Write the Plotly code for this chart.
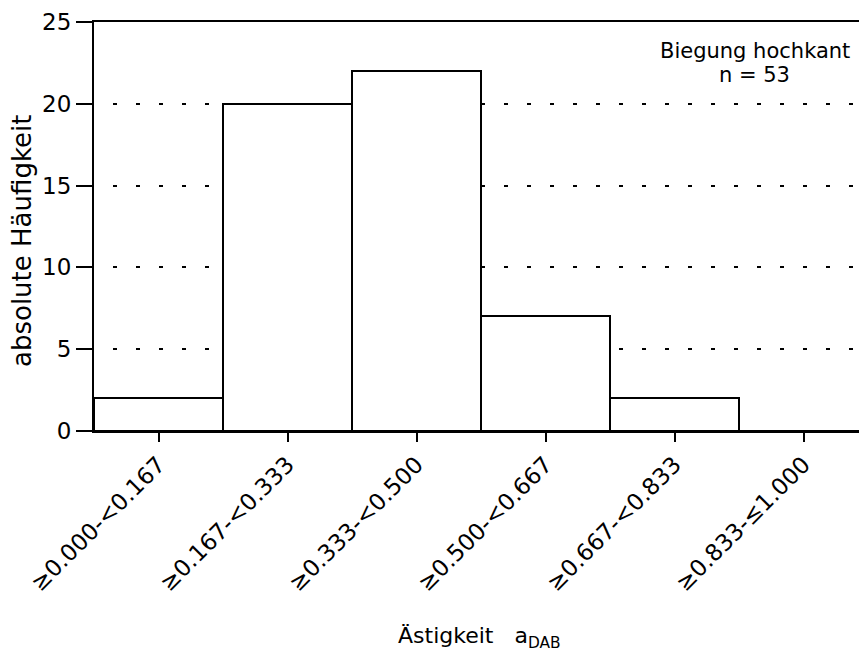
import plotly.graph_objects as go

categories = ["≥0.000-<0.167", "≥0.167-<0.333", "≥0.333-<0.500",
              "≥0.500-<0.667", "≥0.667-<0.833", "≥0.833-≤1.000"]
counts = [2, 20, 22, 7, 2, 0]
y_ticks = [0, 5, 10, 15, 20, 25]
annotation_lines = ["Biegung hochkant", "n = 53"]
x_title = "Ästigkeit\u00a0\u00a0\u00a0a<sub>DAB</sub>"
y_title = "absolute Häufigkeit"

FONT = "DejaVu Sans"

fig = go.Figure()
fig.add_trace(go.Bar(
    x=categories, y=counts,
    marker=dict(color="white", line=dict(color="black", width=2)),
    width=1.0,
    showlegend=False,
))

fig.update_layout(
    width=859, height=660,
    margin=dict(l=94, r=0, t=22, b=229, pad=0),
    paper_bgcolor="white", plot_bgcolor="white",
    bargap=0,
    font=dict(family=FONT, color="black", size=22),
)

fig.update_xaxes(
    type="category",
    range=[-0.5, 5.43],
    showline=True, linecolor="black", linewidth=2,
    mirror=True,
    ticks="outside", ticklen=9, tickwidth=1.5, tickcolor="black",
    tickangle=-45,
    tickfont=dict(family=FONT, size=23, color="black"),
    showgrid=False, zeroline=False,
)
fig.update_yaxes(
    range=[0, 25],
    tickvals=y_ticks,
    showline=True, linecolor="black", linewidth=2,
    ticks="outside", ticklen=16, tickwidth=1.5, tickcolor="black",
    tickfont=dict(family=FONT, size=23, color="black"),
    showgrid=True, gridcolor="black", gridwidth=1.5,
    griddash="0px,19px,4px,0px",
    zeroline=False,
)

fig.add_annotation(x=0.864, y=(431 - 51) / 409, xref="paper", yref="paper",
                   text=annotation_lines[0], showarrow=False,
                   xanchor="center", yanchor="middle",
                   font=dict(family=FONT, size=21, color="black"))
fig.add_annotation(x=0.864, y=(431 - 75) / 409, xref="paper", yref="paper",
                   text=annotation_lines[1], showarrow=False,
                   xanchor="center", yanchor="middle",
                   font=dict(family=FONT, size=21, color="black"))

fig.add_annotation(x=(479 - 94) / 765, y=(431 - 637) / 409, xref="paper", yref="paper",
                   text=x_title, showarrow=False,
                   xanchor="center", yanchor="middle",
                   font=dict(family=FONT, size=22, color="black"))
fig.add_annotation(x=(22 - 94) / 765, y=(431 - 241) / 409, xref="paper", yref="paper",
                   text=y_title, showarrow=False, textangle=-90,
                   xanchor="center", yanchor="middle",
                   font=dict(family=FONT, size=26, color="black"))

fig.write_html("out.html")
